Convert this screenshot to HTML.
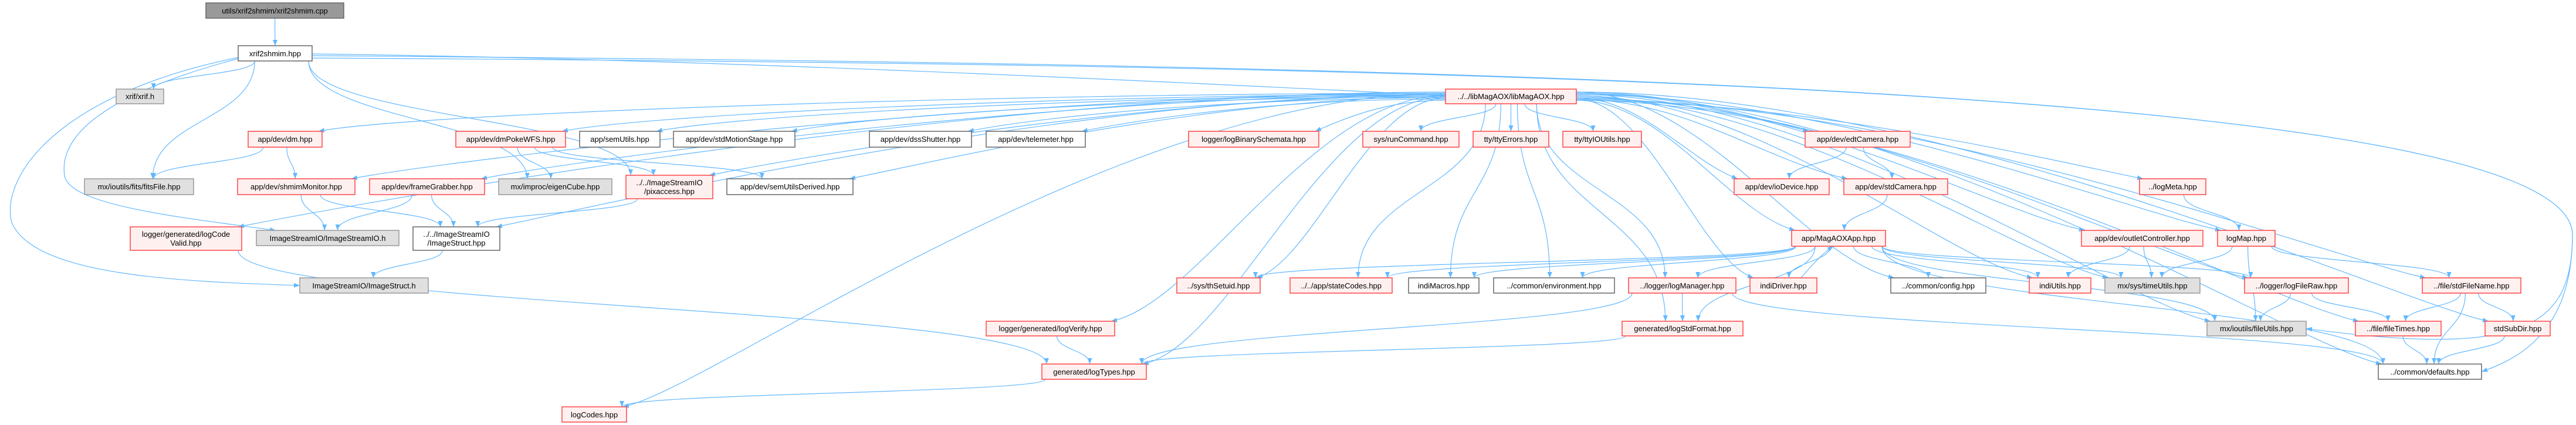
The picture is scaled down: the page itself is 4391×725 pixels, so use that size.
<!DOCTYPE html>
<html><head><meta charset="utf-8">
<style>
html,body{margin:0;padding:0;background:#fff;}
svg{display:block;}
text{font-family:"Liberation Sans",sans-serif;font-size:13px;fill:#000;}
.r{fill:#fff0f0;stroke:#ff4444;stroke-width:1.5}
.g{fill:#e0e0e0;stroke:#999;stroke-width:1.5}
.w{fill:#fff;stroke:#666;stroke-width:1.5}
.root{fill:#999;stroke:#666;stroke-width:1.5}
.e{fill:none;stroke:#63b8ff;stroke-width:1.2}
</style></head>
<body>
<svg id="s" width="4391" height="725" viewBox="0 0 4391 725" xmlns="http://www.w3.org/2000/svg">
<defs><marker id="a" viewBox="0 0 10 10" refX="10" refY="5" markerWidth="10" markerHeight="10" markerUnits="userSpaceOnUse" orient="auto"><path d="M0,1 L10,5 L0,9 z" fill="#63b8ff"/></marker></defs>
<g id="edges"></g>
<g id="nodes">
<rect class="root" x="351" y="5" width="235" height="26"/><text x="468.5" y="23" text-anchor="middle">utils/xrif2shmim/xrif2shmim.cpp</text>
<rect class="w" x="406" y="78" width="126" height="26"/><text x="469" y="96" text-anchor="middle">xrif2shmim.hpp</text>
<rect class="g" x="198" y="152" width="81" height="25"/><text x="238.5" y="169" text-anchor="middle">xrif/xrif.h</text>
<rect class="r" x="2464" y="152" width="223" height="25"/><text x="2575.5" y="169" text-anchor="middle">../../libMagAOX/libMagAOX.hpp</text>
<rect class="r" x="423" y="224" width="126" height="27"/><text x="486" y="242" text-anchor="middle">app/dev/dm.hpp</text>
<rect class="r" x="777" y="224" width="187" height="27"/><text x="870.5" y="242" text-anchor="middle">app/dev/dmPokeWFS.hpp</text>
<rect class="w" x="988" y="224" width="137" height="27"/><text x="1056.5" y="242" text-anchor="middle">app/semUtils.hpp</text>
<rect class="w" x="1148" y="224" width="207" height="27"/><text x="1251.5" y="242" text-anchor="middle">app/dev/stdMotionStage.hpp</text>
<rect class="w" x="1482" y="224" width="174" height="27"/><text x="1569" y="242" text-anchor="middle">app/dev/dssShutter.hpp</text>
<rect class="w" x="1681" y="224" width="169" height="27"/><text x="1765.5" y="242" text-anchor="middle">app/dev/telemeter.hpp</text>
<rect class="r" x="2026" y="224" width="222" height="27"/><text x="2137" y="242" text-anchor="middle">logger/logBinarySchemata.hpp</text>
<rect class="r" x="2323" y="224" width="164" height="27"/><text x="2405" y="242" text-anchor="middle">sys/runCommand.hpp</text>
<rect class="r" x="2511" y="224" width="129" height="27"/><text x="2575.5" y="242" text-anchor="middle">tty/ttyErrors.hpp</text>
<rect class="r" x="2664" y="224" width="134" height="27"/><text x="2731" y="242" text-anchor="middle">tty/ttyIOUtils.hpp</text>
<rect class="r" x="3077" y="224" width="179" height="27"/><text x="3166.5" y="242" text-anchor="middle">app/dev/edtCamera.hpp</text>
<rect class="g" x="144" y="305" width="186" height="27"/><text x="237" y="323" text-anchor="middle">mx/ioutils/fits/fitsFile.hpp</text>
<rect class="r" x="405" y="305" width="200" height="27"/><text x="505" y="323" text-anchor="middle">app/dev/shmimMonitor.hpp</text>
<rect class="r" x="630" y="305" width="196" height="27"/><text x="728" y="323" text-anchor="middle">app/dev/frameGrabber.hpp</text>
<rect class="g" x="850" y="305" width="193" height="27"/><text x="946.5" y="323" text-anchor="middle">mx/improc/eigenCube.hpp</text>
<rect class="r" x="1067" y="299" width="148" height="40"/><text x="1141" y="316" text-anchor="middle">../../ImageStreamIO</text><text x="1141" y="331" text-anchor="middle">/pixaccess.hpp</text>
<rect class="w" x="1239" y="305" width="215" height="27"/><text x="1346.5" y="323" text-anchor="middle">app/dev/semUtilsDerived.hpp</text>
<rect class="r" x="2956" y="305" width="162" height="27"/><text x="3037" y="323" text-anchor="middle">app/dev/ioDevice.hpp</text>
<rect class="r" x="3143" y="305" width="177" height="27"/><text x="3231.5" y="323" text-anchor="middle">app/dev/stdCamera.hpp</text>
<rect class="r" x="3647" y="305" width="113" height="27"/><text x="3703.5" y="323" text-anchor="middle">../logMeta.hpp</text>
<rect class="r" x="222" y="387" width="190" height="40"/><text x="317" y="404" text-anchor="middle">logger/generated/logCode</text><text x="317" y="419" text-anchor="middle">Valid.hpp</text>
<rect class="g" x="437" y="393" width="243" height="26"/><text x="558.5" y="411" text-anchor="middle">ImageStreamIO/ImageStreamIO.h</text>
<rect class="w" x="704" y="387" width="148" height="40"/><text x="778" y="404" text-anchor="middle">../../ImageStreamIO</text><text x="778" y="419" text-anchor="middle">/ImageStruct.hpp</text>
<rect class="r" x="3054" y="393" width="160" height="27"/><text x="3134" y="411" text-anchor="middle">app/MagAOXApp.hpp</text>
<rect class="r" x="3548" y="393" width="207" height="27"/><text x="3651.5" y="411" text-anchor="middle">app/dev/outletController.hpp</text>
<rect class="r" x="3780" y="393" width="98" height="27"/><text x="3829" y="411" text-anchor="middle">logMap.hpp</text>
<rect class="g" x="511" y="474" width="219" height="26"/><text x="620.5" y="492" text-anchor="middle">ImageStreamIO/ImageStruct.h</text>
<rect class="r" x="2006" y="474" width="142" height="26"/><text x="2077" y="492" text-anchor="middle">../sys/thSetuid.hpp</text>
<rect class="r" x="2199" y="474" width="174" height="26"/><text x="2286" y="492" text-anchor="middle">../../app/stateCodes.hpp</text>
<rect class="w" x="2401" y="474" width="120" height="26"/><text x="2461" y="492" text-anchor="middle">indiMacros.hpp</text>
<rect class="w" x="2546" y="474" width="206" height="26"/><text x="2649" y="492" text-anchor="middle">../common/environment.hpp</text>
<rect class="r" x="2776" y="474" width="183" height="26"/><text x="2867.5" y="492" text-anchor="middle">../logger/logManager.hpp</text>
<rect class="r" x="2983" y="474" width="114" height="26"/><text x="3040" y="492" text-anchor="middle">indiDriver.hpp</text>
<rect class="w" x="3223" y="474" width="162" height="26"/><text x="3304" y="492" text-anchor="middle">../common/config.hpp</text>
<rect class="r" x="3459" y="474" width="105" height="26"/><text x="3511.5" y="492" text-anchor="middle">indiUtils.hpp</text>
<rect class="g" x="3588" y="474" width="162" height="26"/><text x="3669" y="492" text-anchor="middle">mx/sys/timeUtils.hpp</text>
<rect class="r" x="3826" y="474" width="177" height="26"/><text x="3914.5" y="492" text-anchor="middle">../logger/logFileRaw.hpp</text>
<rect class="r" x="4129" y="474" width="168" height="26"/><text x="4213" y="492" text-anchor="middle">../file/stdFileName.hpp</text>
<rect class="r" x="1681" y="548" width="219" height="25"/><text x="1790.5" y="565" text-anchor="middle">logger/generated/logVerify.hpp</text>
<rect class="r" x="2765" y="548" width="206" height="25"/><text x="2868" y="565" text-anchor="middle">generated/logStdFormat.hpp</text>
<rect class="g" x="3762" y="548" width="169" height="25"/><text x="3846.5" y="565" text-anchor="middle">mx/ioutils/fileUtils.hpp</text>
<rect class="r" x="4015" y="548" width="146" height="25"/><text x="4088" y="565" text-anchor="middle">../file/fileTimes.hpp</text>
<rect class="r" x="4236" y="548" width="111" height="25"/><text x="4291.5" y="565" text-anchor="middle">stdSubDir.hpp</text>
<rect class="r" x="1776" y="621" width="178" height="26"/><text x="1865" y="639" text-anchor="middle">generated/logTypes.hpp</text>
<rect class="w" x="4054" y="621" width="176" height="26"/><text x="4142" y="639" text-anchor="middle">../common/defaults.hpp</text>
<rect class="r" x="958" y="694" width="110" height="26"/><text x="1013" y="712" text-anchor="middle">logCodes.hpp</text>
</g>
</svg>
<script>
(function(){
var N={root:[351,5,235,26],hpp:[406,78,126,26],xrif:[198,152,81,25],lib:[2464,152,223,25],
dm:[423,224,126,27],poke:[777,224,187,27],sem:[988,224,137,27],smot:[1148,224,207,27],dss:[1482,224,174,27],tele:[1681,224,169,27],
lbin:[2026,224,222,27],run:[2323,224,164,27],tte:[2511,224,129,27],tio:[2664,224,134,27],edt:[3077,224,179,27],
fits:[144,305,186,27],shm:[405,305,200,27],fg:[630,305,196,27],eig:[850,305,193,27],pix:[1067,299,148,40],sder:[1239,305,215,27],
iod:[2956,305,162,27],scam:[3143,305,177,27],lmeta:[3647,305,113,27],lcv:[222,387,190,40],isio:[437,393,243,26],ishpp:[704,387,148,40],
app:[3054,393,160,27],outl:[3548,393,207,27],lmap:[3780,393,98,27],ish:[511,474,219,26],ths:[2006,474,142,26],st:[2199,474,174,26],
imac:[2401,474,120,26],env:[2546,474,206,26],lmgr:[2776,474,183,26],idrv:[2983,474,114,26],cfg:[3223,474,162,26],iu:[3459,474,105,26],
tu:[3588,474,162,26],lfr:[3826,474,177,26],sfn:[4129,474,168,26],lver:[1681,548,219,25],lstd:[2765,548,206,25],fu:[3762,548,169,25],
ft:[4015,548,146,25],sd:[4236,548,111,25],lt:[1776,621,178,26],def:[4054,621,176,26],lc:[958,694,110,26]};
var E=[["root","hpp"],["hpp","xrif"],["hpp","fits"],["hpp","eig"],["hpp","isio"],["hpp","ish"],["hpp","pix"],["hpp","def"],["hpp","fu"],
["dm","fits"],["dm","shm"],["poke","eig"],["poke","pix"],["poke","sder"],["shm","isio"],["shm","ishpp"],["fg","isio"],["fg","ishpp"],["pix","ishpp"],["ishpp","ish"],
["lcv","lt"],["edt","iod"],["edt","scam"],["scam","app"],["app","st"],["app","imac"],["app","env"],["app","lmgr"],["app","idrv"],["app","cfg"],["app","iu"],["app","tu"],["app","lfr"],["app","ths"],["app","fu"],["app","def"],["app","lstd"],
["lmgr","lstd"],["lmgr","lt"],["lmgr","def"],["lstd","lt"],["lver","lt"],["lt","lc"],["outl","iu"],["outl","tu"],["lmap","tu"],["lmap","fu"],["lmap","sfn"],["lmeta","lmap"],
["lfr","fu"],["lfr","ft"],["sfn","ft"],["sfn","sd"],["sfn","def"],["ft","def"],["sd","def"]];
["dm","poke","sem","smot","dss","tele","lbin","run","tte","tio","edt","shm","fg","pix","sder","iod","scam","lmeta","lcv","lc","ishpp","lver","lt","ths","st","imac","env","lmgr","idrv","app","cfg","outl","lmap","iu","tu","lfr","sfn","ft","sd","def","fu","lstd"].forEach(function(t){E.push(["lib",t]);});
var g=document.getElementById("edges"),ns="http://www.w3.org/2000/svg";
function cl(v,a,b){return Math.max(a,Math.min(b,v));}
function add(d){var p=document.createElementNS(ns,"path");p.setAttribute("d",d);p.setAttribute("class","e");p.setAttribute("marker-end","url(#a)");g.appendChild(p);}
var li=0;
E.forEach(function(e){
var s=N[e[0]],t=N[e[1]];
var scx=s[0]+s[2]/2,tcx=t[0]+t[2]/2;
var sx,sy,tx,ty,dx,dy;
if(e[0]=="hpp"&&(e[1]=="def"||e[1]=="fu")){
 ty=t[1]+t[3]/2;add("M532,"+(e[1]=="def"?95:99)+" C2500,110 4380,150 4385,400 C4385,560 4300,610 "+(t[0]+t[2])+","+ty);return;}
if(e[0]=="hpp"&&e[1]=="ish"){add("M406,98 C100,160 0,300 20,380 C60,470 300,480 511,487");return;}
if(e[0]=="hpp"&&e[1]=="isio"){add("M406,100 C180,160 100,230 110,300 C120,350 300,370 470,393");return;}
if(e[0]=="lib"&&Math.abs(tcx-scx)>350){
 li++;
 var off=(li%8)*2;
 if(t[0]+t[2] < s[0]){
  sx=s[0];sy=s[1]+5+off;
  tx=t[0]+t[2]-6;ty=t[1];
  dx=sx-tx;
  add("M"+sx+","+sy+" C"+(sx-dx*0.4)+","+sy+" "+(tx+Math.min(150,dx*0.3))+","+(ty-30)+" "+tx+","+ty);
 } else if(t[0] > s[0]+s[2]){
  sx=s[0]+s[2];sy=s[1]+5+off;
  tx=t[0]+6;ty=t[1];
  dx=tx-sx;
  add("M"+sx+","+sy+" C"+(sx+dx*0.4)+","+sy+" "+(tx-Math.min(150,dx*0.3))+","+(ty-30)+" "+tx+","+ty);
 } else {
  sx=scx+cl((tcx-scx)*0.15,-s[2]/2+6,s[2]/2-6);sy=s[1]+s[3];tx=tcx;ty=t[1];dy=ty-sy;
  add("M"+sx+","+sy+" C"+sx+","+(sy+dy*0.5)+" "+tx+","+(ty-dy*0.5)+" "+tx+","+ty);
 }
 return;
}
sx=scx+cl((tcx-scx)*0.15,-s[2]/2+6,s[2]/2-6);sy=s[1]+s[3];
tx=tcx+cl((scx-tcx)*0.1,-t[2]/2+8,t[2]/2-8);ty=t[1];
dy=ty-sy;
add("M"+sx+","+sy+" C"+sx+","+(sy+dy*0.5)+" "+tx+","+(ty-dy*0.5)+" "+tx+","+ty);
});
add("M532,92 C1200,100 2000,140 2464,163");
add("M3070,474 C3090,450 3110,430 3125,420");
})();
</script>
</body></html>
